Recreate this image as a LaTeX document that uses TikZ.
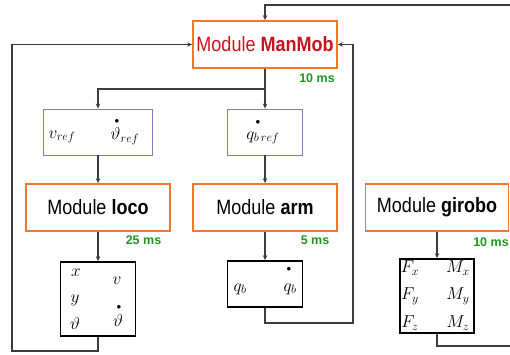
\documentclass[tikz,border=0pt]{standalone}
\usepackage{fontspec}
\setmainfont{Liberation Sans}
\usetikzlibrary{arrows.meta}
\definecolor{orangeb}{RGB}{240,120,40}
\definecolor{blueb}{RGB}{125,125,200}
\definecolor{redt}{RGB}{200,20,30}
\definecolor{greent}{RGB}{30,150,30}
\definecolor{linec}{RGB}{60,60,60}
\tikzset{
 modbox/.style={draw=orangeb, line width=1.8pt, minimum height=47pt, inner sep=0pt, font=\fontsize{18}{20}\selectfont},
 refbox/.style={draw=blueb, line width=0.9pt, inner sep=0pt, minimum height=46pt},
 outbox/.style={draw=black, line width=1.8pt, inner sep=0pt},
 timelbl/.style={text=greent, font=\bfseries\fontsize{12.5}{14}\selectfont, inner sep=0pt},
 sym/.style={inner sep=0pt, font=\fontsize{17}{19}\selectfont},
 dotlbl/.style={inner sep=0pt, font=\fontsize{9.5}{11}\selectfont},
 conn/.style={draw=linec, line width=1.1pt},
 arr/.style={conn, -{Stealth[length=5pt,width=4.5pt]}},
}
\begin{document}
\begin{tikzpicture}[x=1pt,y=-1pt]
\useasboundingbox (0,0) rectangle (510,354);
% module boxes
\node[modbox, minimum width=144pt, text=redt] (manmob) at (265,44.5) {\scalebox{1}[1.15]{Module \textbf{ManMob}}};
\node[modbox, minimum width=144pt] (loco) at (98,207.5) {\scalebox{1}[1.15]{Module \textbf{loco}}};
\node[modbox, minimum width=144pt] (arm) at (265,207.5) {\scalebox{1}[1.15]{Module \textbf{arm}}};
\node[modbox, minimum width=143pt] (girobo) at (437,207.5) {\scalebox{1}[1.15]{Module \textbf{girobo}}};
% timing labels
\node[timelbl] (t1) at (317,78) {10 ms};
\node[timelbl] (t2) at (143.5,240) {25 ms};
\node[timelbl] (t3) at (315,240) {5 ms};
\node[timelbl] (t4) at (491,242) {10 ms};
% reference boxes
\node[refbox, minimum width=109pt] (vref) at (98,132) {};
\node[sym] (s1) at (62,137) {$v_{ref}$};
\node[sym] (s2) at (125,136) {$\vartheta_{ref}$};
\node[dotlbl] (d2) at (117,121) {$\bullet$};
\node[refbox, minimum width=75pt] (qref) at (265,132) {};
\node[sym] (s3) at (263,138) {$q_{b\,ref}$};
\node[dotlbl] (d3) at (258,122) {$\bullet$};
% output boxes
\node[outbox, minimum width=75pt, minimum height=74pt] (locoout) at (98,299) {};
\node[sym] (o1) at (76,273) {$x$};
\node[sym] (o2) at (75,300) {$y$};
\node[sym] (o3) at (75,323) {$\vartheta$};
\node[sym] (o4) at (117,281) {$v$};
\node[sym] (o5) at (118,320) {$\vartheta$};
\node[dotlbl] (d5) at (119,307) {$\bullet$};
\node[outbox, minimum width=75pt, minimum height=46pt] (armout) at (265,284) {};
\node[sym] (o6) at (240,289) {$q_b$};
\node[sym] (o7) at (290,289) {$q_b$};
\node[dotlbl] (d7) at (289,269) {$\bullet$};
\node[outbox, minimum width=74pt, minimum height=74pt] (girout) at (437,296) {};
\node[sym] (f1) at (410,268) {$F_x$};
\node[sym] (f2) at (410,296) {$F_y$};
\node[sym] (f3) at (410,323) {$F_z$};
\node[sym] (m1) at (458,268) {$M_x$};
\node[sym] (m2) at (458,296) {$M_y$};
\node[sym] (m3) at (458,323) {$M_z$};
% coordinates
\coordinate (tr) at (510,5);
\coordinate (split) at (265,89);
\coordinate (lb) at (12,351);
\coordinate (rb) at (353,323);
\coordinate (gb) at (510,346);
% connectors
\draw[arr] (tr) -| (manmob.north);
\draw[conn] (manmob.south) -- (split);
\draw[arr] (split) -| (vref.north);
\draw[arr] (split) -- (qref.north);
\draw[arr] (vref.south) -- (loco.north);
\draw[arr] (qref.south) -- (arm.north);
\draw[arr] (loco.south) -- (locoout.north);
\draw[arr] (arm.south) -- (armout.north);
\draw[arr] (girobo.south) -- (girout.north);
\draw[arr] (locoout.south) |- (lb) |- (manmob.west);
\draw[arr] (armout.south) |- (rb) |- (manmob.east);
\draw[conn] (girout.south) |- (gb);
\end{tikzpicture}
\end{document}
